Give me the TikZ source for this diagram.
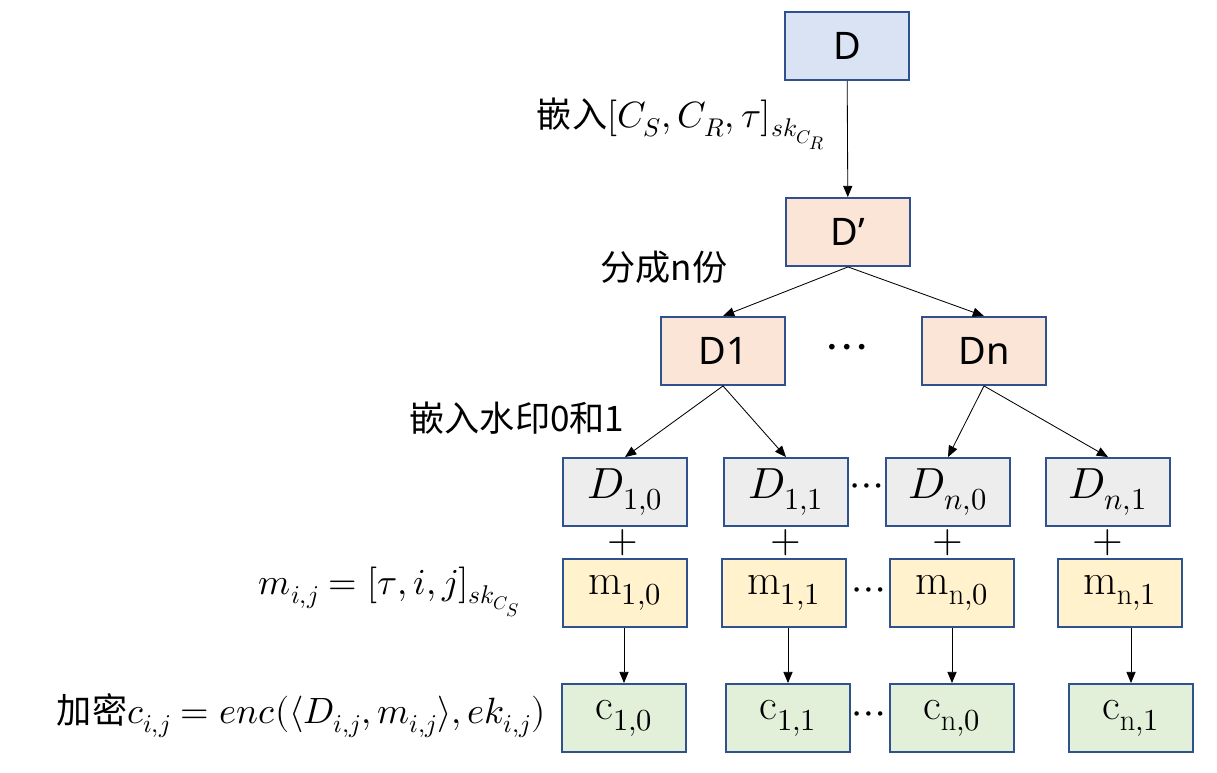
\documentclass[tikz,border=0pt]{standalone}
\usepackage{amsmath}
\usepackage{fontspec}
\usepackage{unicode-math}
\setmathfont{Latin Modern Math}
\newfontfamily\cjk{Noto Sans CJK SC}
\newfontfamily\boxfont{Noto Sans}
\usepackage{xcolor}
\usetikzlibrary{arrows.meta}
\definecolor{edgeblue}{HTML}{2F528F}
\definecolor{fillD}{HTML}{DAE3F3}
\definecolor{fillP}{HTML}{FBE5D6}
\definecolor{fillG}{HTML}{EDEDED}
\definecolor{fillM}{HTML}{FFF2CC}
\definecolor{fillC}{HTML}{E2F0D9}

\begin{document}
\begin{tikzpicture}[x=0.025cm, y=-0.025cm, >={Triangle[length=8pt, width=6.5pt]},
    box/.style={draw=edgeblue, line width=1.3pt, minimum width=3.1cm, minimum height=1.7cm,
                font=\fontsize{31}{34}\selectfont},
    dbox/.style={box, font=\fontsize{27}{30}\selectfont\boxfont},
    lbl/.style={font=\fontsize{25}{28}\selectfont},
    mlbl/.style={font=\fontsize{26}{30}\selectfont, anchor=west},
    gap/.style={inner sep=0pt, font=\fontsize{30}{32}\selectfont},
    link/.style={->, line width=0.6pt}]
  \useasboundingbox (0,0) rectangle (1217,772);

  % top part
  \node[dbox, fill=fillD] (D) at (847,46) {D};
  \node[dbox, fill=fillP] (Dp) at (848,232) {D’};
  \node[dbox, fill=fillP] (D1) at (723,351) {D1};
  \node[dbox, fill=fillP] (Dn) at (984,351) {Dn};
  \node[gap, font=\fontsize{38}{40}\selectfont] (dots1) at (847,352) {$\cdots$};

  \node[mlbl] (embed) at (532,124)
        {{\fontsize{25}{28}\selectfont\cjk 嵌入}$[C_S, C_R, \tau]_{sk_{C_R}}$};
  \node[lbl] (split) at (664,267) {\cjk 分成n份};
  \node[lbl] (mark) at (517,418) {\cjk 嵌入水印0和1};

  % watermarked parts
  \node[box, fill=fillG] (D10) at (625,492) {$D_{1,0}$};
  \node[box, fill=fillG] (D11) at (786,492) {$D_{1,1}$};
  \node[box, fill=fillG] (Dn0) at (948,492) {$D_{n,0}$};
  \node[box, fill=fillG] (Dn1) at (1108,492) {$D_{n,1}$};
  \node[gap] (dots2) at (867,490) {$\cdots$};

  \foreach \px/\nm in {623/p1, 786/p2, 948/p3, 1108/p4}
    \node[gap, font=\fontsize{28}{30}\selectfont] (\nm) at (\px,543) {$+$};

  % signatures
  \node[mlbl] (mdef) at (254,592) {$m_{i,j} = [\tau, i, j]_{sk_{C_S}}$};
  \node[box, fill=fillM] (m10) at (625,593) {$\mathrm{m}_{1,0}$};
  \node[box, fill=fillM] (m11) at (784,593) {$\mathrm{m}_{1,1}$};
  \node[box, fill=fillM] (mn0) at (952,593) {$\mathrm{m}_{\mathrm{n},0}$};
  \node[box, fill=fillM] (mn1) at (1120,593) {$\mathrm{m}_{\mathrm{n},1}$};
  \node[gap] (dots3) at (869,594) {$\cdots$};

  % ciphertexts
  \node[mlbl] (cdef) at (52,716)
        {{\fontsize{25}{28}\selectfont\cjk 加密}$c_{i,j} = enc(\langle D_{i,j}, m_{i,j}\rangle, ek_{i,j})$};
  \node[box, fill=fillC] (c10) at (624,718) {$\mathrm{c}_{1,0}$};
  \node[box, fill=fillC] (c11) at (788,718) {$\mathrm{c}_{1,1}$};
  \node[box, fill=fillC] (cn0) at (952,718) {$\mathrm{c}_{\mathrm{n},0}$};
  \node[box, fill=fillC] (cn1) at (1131,718) {$\mathrm{c}_{\mathrm{n},1}$};
  \node[gap] (dots4) at (869,718) {$\cdots$};

  \draw[link] (D) -- (Dp);
  \draw[link] (Dp.south) -- (D1.north);
  \draw[link] (Dp.south) -- (Dn.north);
  \draw[link] (D1.south) -- (D10.north);
  \draw[link] (D1.south) -- (D11.north);
  \draw[link] (Dn.south) -- (Dn0.north);
  \draw[link] (Dn.south) -- (Dn1.north);
  \draw[link] (c10.north |- m10.south) -- (c10.north);
  \draw[link] (c11.north |- m11.south) -- (c11.north);
  \draw[link] (cn0.north |- mn0.south) -- (cn0.north);
  \draw[link] (cn1.north |- mn1.south) -- (cn1.north);
\end{tikzpicture}
\end{document}
